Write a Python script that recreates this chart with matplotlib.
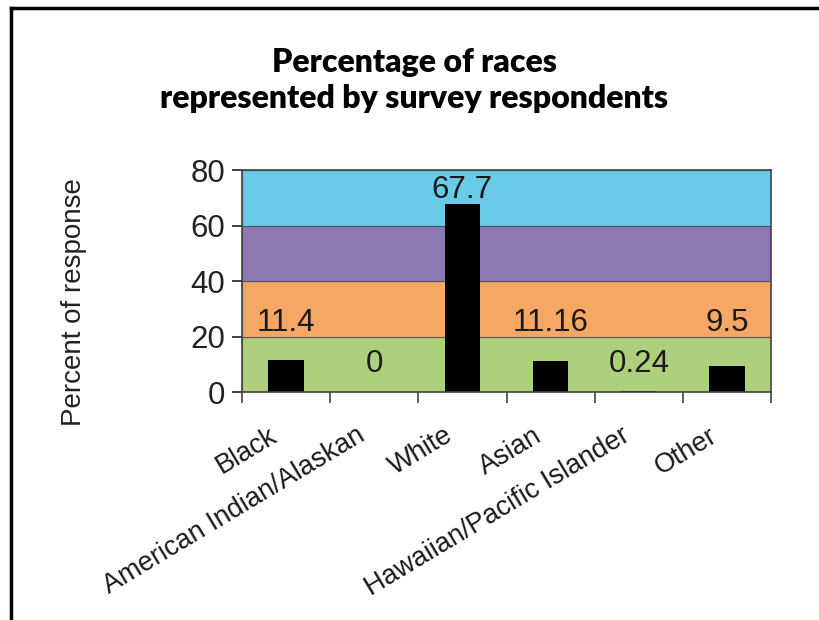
import matplotlib.pyplot as plt
import matplotlib.transforms as mtransforms
from matplotlib.lines import Line2D

# data
races = ["Black", "American Indian/Alaskan", "White", "Asian",
         "Hawaiian/Pacific Islander", "Other"]
percent = [11.4, 0, 67.7, 11.16, 0.24, 9.5]
value_text = ["11.4", "0", "67.7", "11.16", "0.24", "9.5"]

# background bands (lower, upper, colour)
band_edges = [0, 20, 40, 60, 80]
band_colors = ["#aed07c", "#f5a763", "#8e78b1", "#69cbe8"]

# where the value labels sit (in data units)
label_y = [25, 10, 72.8, 25, 10, 25]

plt.rcParams['font.family'] = ['Liberation Sans', 'DejaVu Sans']

fig = plt.figure(figsize=(8.19, 6.2), dpi=100)
ax = fig.add_axes([0.2955, 0.3677, 0.6459, 0.3581])

for i in range(len(band_colors)):
    ax.axhspan(band_edges[i], band_edges[i + 1], facecolor=band_colors[i],
               edgecolor="#555555", linewidth=0.8, zorder=0)

x = [i + 0.5 for i in range(len(races))]
ax.bar(x, percent, width=0.4, color="black", zorder=2)

for xi, yi, t in zip(x, label_y, value_text):
    ax.text(xi, yi, t, ha="center", va="center", fontsize=22.5, color="#1a1a1a", zorder=3)

ax.set_xlim(0, len(races))
ax.set_ylim(0, 80)
ax.set_yticks([0, 20, 40, 60, 80])
ax.tick_params(axis="y", labelsize=22.5, length=7, width=1.2, pad=5, colors="#222222")

# ticks between categories, labels under the centres
ax.set_xticks(range(len(races) + 1))
ax.set_xticklabels([])
ax.tick_params(axis="x", which="major", length=8, width=1.2, color="#444444")
ax.set_xticks(x, minor=True)
ax.set_xticklabels(races, minor=True, rotation=31, ha="right",
                   rotation_mode="anchor", fontsize=19.5, color="#1a1a1a")
ax.tick_params(axis="x", which="minor", length=0, pad=22)
offset = mtransforms.ScaledTranslation(-18 / 100, 0, fig.dpi_scale_trans)
for lab in ax.get_xticklabels(minor=True):
    lab.set_transform(lab.get_transform() + offset)

for s in ax.spines.values():
    s.set_color("#444444")
    s.set_linewidth(1.2)

ax.set_ylabel("Percent of response", fontsize=20, color="#222222")
ax.yaxis.set_label_coords(-0.293, 0.405)

fig.text(0.506, 0.87, "Percentage of races\nrepresented by survey respondents",
         ha="center", va="center", fontsize=23, fontweight="heavy",
         family=["Lato", "Liberation Sans"], linespacing=1.3)

# frame lines of the page (left and top)
fig.add_artist(Line2D([0.013, 0.013], [0, 0.987], transform=fig.transFigure,
                      color="black", linewidth=2.5))
fig.add_artist(Line2D([0.013, 1.0], [0.987, 0.987], transform=fig.transFigure,
                      color="black", linewidth=2.5))

fig.savefig("out.png", dpi=100)
